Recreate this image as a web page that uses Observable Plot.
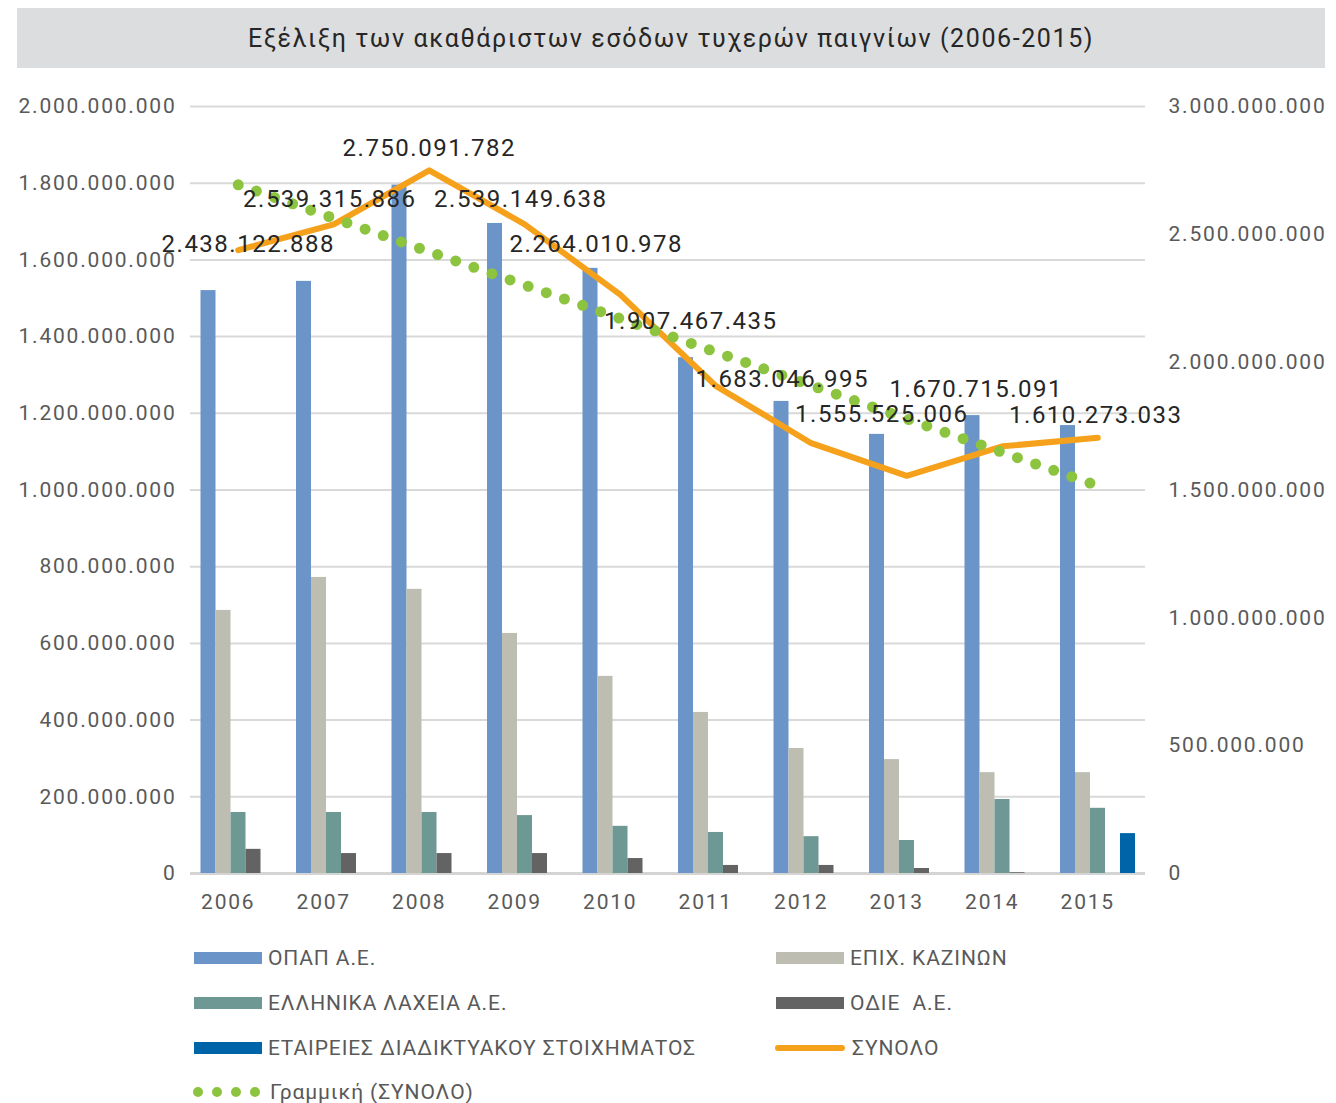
<!DOCTYPE html>
<html><head><meta charset="utf-8">
<script src="https://cdn.jsdelivr.net/npm/d3@7"></script>
<script src="https://cdn.jsdelivr.net/npm/@observablehq/plot@0.6"></script>
<style>
body{margin:0;background:#fff;font-family:Roboto,sans-serif;width:1336px;height:1103px;position:relative;overflow:hidden}
#title{position:absolute;left:17px;top:8px;width:1308px;height:60px;background:#dcdddf;display:flex;align-items:center;justify-content:center;font-size:25px;color:#262626;letter-spacing:1.6px}
#chart{position:absolute;left:0;top:68px}
#chart svg text{letter-spacing:1.8px}
#chart svg g[aria-label="text"] text{letter-spacing:1.5px}
.leg{position:absolute;display:flex;align-items:center;font-size:21px;color:#595959;height:30px;letter-spacing:0.9px;white-space:pre}
.leg svg{margin-right:6px}
</style>
</head><body>
<div id="title"></div>
<div id="chart"></div>
<div id="legend"></div>
<script>
const titleText = "Εξέλιξη των ακαθάριστων εσόδων τυχερών παιγνίων (2006-2015)";
const years = [2006, 2007, 2008, 2009, 2010, 2011, 2012, 2013, 2014, 2015];
const opap     = [1520e6, 1544e6, 1795e6, 1695e6, 1578e6, 1345e6, 1231e6, 1145e6, 1194e6, 1168e6];
const casinos  = [686e6, 772e6, 741e6, 626e6, 514e6, 420e6, 326e6, 297e6, 263e6, 263e6];
const lottery  = [159e6, 159e6, 159e6, 151e6, 123e6, 107e6, 96e6, 86e6, 193e6, 170e6];
const odie     = [63e6, 52e6, 52e6, 52e6, 39e6, 21e6, 21e6, 13e6, 2e6, 0];
const internet = [0, 0, 0, 0, 0, 0, 0, 0, 0, 104e6];
const totals   = [2438122888, 2539315886, 2750091782, 2539149638, 2264010978, 1907467435, 1683046995, 1555525006, 1670715091, 1704000000];
const totalLabels = ["2.438.122.888", "2.539.315.886", "2.750.091.782", "2.539.149.638", "2.264.010.978", "1.907.467.435", "1.683.046.995", "1.555.525.006", "1.670.715.091", "1.610.273.033"];
const leftTicks  = [0, 2e8, 4e8, 6e8, 8e8, 1e9, 1.2e9, 1.4e9, 1.6e9, 1.8e9, 2e9];
const rightTicks = [0, 5e8, 1e9, 1.5e9, 2e9, 2.5e9, 3e9];
const seriesNames = ["ΟΠΑΠ Α.Ε.", "ΕΠΙΧ. ΚΑΖΙΝΩΝ", "ΕΛΛΗΝΙΚΑ ΛΑΧΕΙΑ Α.Ε.", "ΟΔΙΕ  Α.Ε.", "ΕΤΑΙΡΕΙΕΣ ΔΙΑΔΙΚΤΥΑΚΟΥ ΣΤΟΙΧΗΜΑΤΟΣ"];
const totalName = "ΣΥΝΟΛΟ";
const trendName = "Γραμμική (ΣΥΝΟΛΟ)";

// styles
const colors = ["#6b95c8", "#bdbdb1", "#6e9894", "#636363", "#0064a8"];
const orange = "#f6a11b", green = "#8cc43f";
document.getElementById("title").textContent = titleText;

const fmtLocale = d3.formatLocale({decimal: ",", thousands: ".", grouping: [3], currency: ["", "€"]});
const fmt = fmtLocale.format(",d");

const seriesData = [opap, casinos, lottery, odie, internet];
const rows = years.map((y, i) => ({year: y, s0: opap[i], s1: casinos[i], s2: lottery[i], s3: odie[i], s4: internet[i], total: totals[i], label: totalLabels[i]}));

const leftMax = 2e9, rightMax = 3e9, k = leftMax / rightMax;
const W = 1336, mL = 190, mR = 191;
const bandPx = (W - mL - mR) / years.length;
const pad = 10.5, bw = 15;

const barMarks = seriesData.map((_, j) => Plot.rectY(rows, {
  x1: d => d.year - 0.5, x2: d => d.year + 0.5,
  y1: 0, y2: "s" + j, fill: colors[j],
  insetLeft: pad + j * bw, insetRight: bandPx - pad - (j + 1) * bw
}));

// label nudges (layout, pixels)
const nudges = [[10,-6],[-4,-25],[0,-22],[-4,-25],[-24,-50],[-25,-65],[-29,-64],[-25,-61],[-26,-57],[-2,-23]];
const labelMarks = rows.map((r, i) => Plot.text([r], {
  x: "year", y: d => d.total * k, text: "label",
  dx: nudges[i][0], dy: nudges[i][1], fill: "#262626", fontSize: 24
}));

const chart = Plot.plot({
  width: W, height: 870,
  marginLeft: mL, marginRight: mR, marginTop: 38, marginBottom: 65,
  style: {fontFamily: "Roboto, sans-serif", fontSize: "21px", color: "#595959", background: "white"},
  x: {type: "linear", domain: [2005.5, 2015.5]},
  y: {domain: [0, leftMax]},
  marks: [
    Plot.gridY(leftTicks.filter(t => t > 0), {stroke: "#d9d9d9", strokeOpacity: 1, strokeWidth: 2}),
    Plot.ruleY([0], {stroke: "#d4d4d4", strokeWidth: 3}),
    ...barMarks,
    Plot.line(rows, {x: "year", y: d => d.total * k, stroke: orange, strokeWidth: 6, strokeLinejoin: "round", strokeLinecap: "round"}),
    Plot.linearRegressionY(rows, {x: "year", y: d => d.total * k, ci: 0, stroke: green, strokeWidth: 11, strokeDasharray: "0 19.2", strokeLinecap: "round"}),
    Plot.axisY({anchor: "left", ticks: leftTicks, tickFormat: fmt, tickSize: 0, tickPadding: 14, label: null}),
    Plot.axisY({anchor: "right", ticks: rightTicks.map(v => v * k), tickFormat: v => fmt(Math.round(v / k)), tickSize: 0, tickPadding: 23, label: null}),
    Plot.axisX({ticks: years, tickFormat: d => String(d), tickSize: 0, tickPadding: 21, dx: -10, label: null}),
    ...labelMarks
  ]
});
document.getElementById("chart").appendChild(chart);

// legend
const legend = document.getElementById("legend");
const items = [
  {name: seriesNames[0], type: "bar", color: colors[0], x: 194, y: 958},
  {name: seriesNames[1], type: "bar", color: colors[1], x: 776, y: 958},
  {name: seriesNames[2], type: "bar", color: colors[2], x: 194, y: 1003},
  {name: seriesNames[3], type: "bar", color: colors[3], x: 776, y: 1003},
  {name: seriesNames[4], type: "bar", color: colors[4], x: 194, y: 1048},
  {name: totalName, type: "line", color: orange, x: 774, y: 1048},
  {name: trendName, type: "dots", color: green, x: 190, y: 1092}
];
for (const it of items) {
  const div = document.createElement("div");
  div.className = "leg";
  div.style.left = it.x + "px";
  div.style.top = (it.y - 15) + "px";
  let sw;
  if (it.type === "bar") sw = `<svg width="68" height="12"><rect width="68" height="12" fill="${it.color}"/></svg>`;
  else if (it.type === "line") sw = `<svg width="72" height="10"><line x1="4" x2="68" y1="5" y2="5" stroke="${it.color}" stroke-width="6" stroke-linecap="round"/></svg>`;
  else sw = `<svg width="74" height="12"><line x1="8" x2="70" y1="6" y2="6" stroke="${it.color}" stroke-width="10" stroke-dasharray="0 19" stroke-linecap="round"/></svg>`;
  div.innerHTML = sw + `<span></span>`;
  div.querySelector("span").textContent = it.name;
  legend.appendChild(div);
}
</script>
</body></html>
